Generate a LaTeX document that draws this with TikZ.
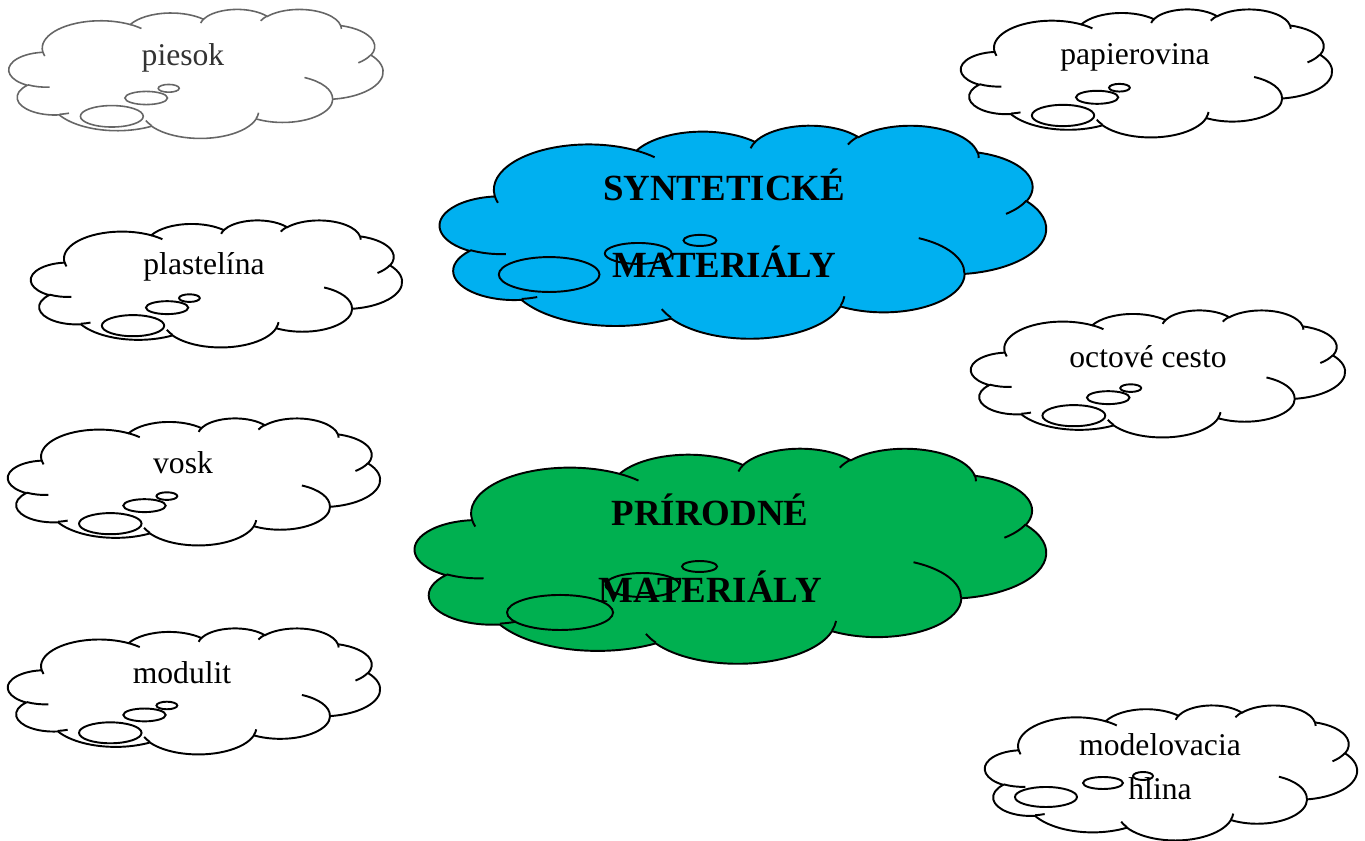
\documentclass[tikz,border=0pt]{standalone}
\usepackage{fontspec}
\setmainfont{Liberation Serif}

\definecolor{synblue}{RGB}{0,176,240}
\definecolor{prigreen}{RGB}{0,176,80}

% arc given like in the word shape (visual angles)
\tikzset{
  wa/.code n args={4}{%
    \pgfmathsetmacro\wdA{atan2(#1*sin(#3),#2*cos(#3))}%
    \pgfmathsetmacro\wdB{atan2(#1*sin(#3+#4),#2*cos(#3+#4))}%
    \pgfmathsetmacro\wdD{mod(\wdB-(\wdA)+720,360)}%
    \edef\wdtmp{\noexpand\pgfkeysalso{x radius=#1, y radius=#2, start angle=\wdA, delta angle=\wdD}}%
    \wdtmp
  }
}

% cloud: x0, y0, width, height, fill, bubbles
\newcommand{\wordcloud}[6]{%
  \pgfmathsetmacro\cx{#3/43.2*0.02}%
  \pgfmathsetmacro\cy{#4/43.2*0.02}%
  \edef\bubblelist{#6}%
  \begin{scope}[shift={(#1,#2)}, x=\cx cm, y=-\cy cm]
    \draw[fill=#5] (3.9,14.37)
      arc[wa={6.753}{9.19}{-190.4875}{123.7805}]
      arc[wa={5.333}{7.267}{-144.1024}{89.9452}]
      arc[wa={4.365}{5.945}{-145.8079}{99.723}]
      arc[wa={4.857}{6.595}{-130.9861}{117.2417}]
      arc[wa={5.333}{7.273}{-78.7089}{109.0269}]
      arc[wa={6.775}{9.22}{-46.2673}{130.269}]
      arc[wa={5.785}{7.867}{0.625}{114.0333}]
      arc[wa={6.752}{9.215}{22.4516}{115.1726}]
      arc[wa={7.72}{10.543}{66.2426}{75.711}]
      arc[wa={4.36}{5.918}{-274.9421}{146.7356}]
      arc[wa={4.345}{5.945}{-246.8285}{152.5189}]
      -- cycle;
    \draw (4.693,26.177) arc[wa={4.345}{5.945}{86.742}{26.4295}]
      (6.928,34.899) arc[wa={4.36}{5.918}{73.6105}{11.4475}]
      (16.478,39.09) arc[wa={6.752}{9.215}{137.6242}{14.0811}]
      (28.827,34.751) arc[wa={6.752}{9.215}{6.4533}{15.9984}]
      (34.129,22.954) arc[wa={5.785}{7.867}{-70.2924}{70.9174}]
      (41.798,15.354) arc[wa={5.333}{7.273}{30.318}{27.7515}]
      (38.324,5.426) arc[wa={4.857}{6.595}{-13.7443}{14.8589}]
      (29.078,3.952) arc[wa={4.857}{6.595}{-149.1815}{18.1954}]
      (22.141,4.72) arc[wa={4.365}{5.945}{-163.4943}{17.6864}]
      (14,5.192) arc[wa={6.753}{9.19}{-66.707}{12.3194}]
      (4.127,15.789) arc[wa={6.753}{9.19}{157.6544}{11.8582}];
    \foreach \bx/\by/\bw/\bh in \bubblelist
      \draw (\bx,\by) ellipse [x radius=\bw, y radius=\bh];
  \end{scope}
}
\newcommand{\smallbubbles}{11.88/35.94/3.63/3.59, 15.85/29.81/2.46/2.2, 18.45/26.57/1.21/1.3}

\begin{document}
\begin{tikzpicture}[x=0.02cm, y=-0.02cm, line width=1.1pt]
\tikzstyle{word} = [font=\fontsize{18}{25}\selectfont, anchor=base, align=center, inner sep=0pt]
\tikzstyle{heading} = [font=\bfseries\fontsize{21}{43.8}\selectfont, anchor=base, align=center, inner sep=0pt]

\useasboundingbox (0,0) rectangle (1365,841);

% mraky
\begin{scope}[draw=black!60, line width=0.9pt]
\wordcloud{9}{9}{374}{129}{white}{\smallbubbles}
\end{scope}
\wordcloud{961}{9}{371}{128}{white}{\smallbubbles}
\wordcloud{31}{220}{371}{127}{white}{\smallbubbles}
\wordcloud{971}{310}{374}{127}{white}{\smallbubbles}
\wordcloud{8}{418}{372}{127}{white}{\smallbubbles}
\wordcloud{8}{628}{372}{126}{white}{\smallbubbles}
\wordcloud{985}{705}{372}{135}{white}{7.08/29.44/3.6/3.2, 13.7/24.96/2.32/1.92, 18.35/22.72/1.16/1.28}
\wordcloud{440}{125}{606}{213}{synblue}{7.78/30.33/3.59/3.54, 14.13/26.05/2.38/2.12, 18.53/23.41/1.17/1.12}
\wordcloud{415}{448}{631}{215}{prigreen}{9.93/33.05/3.63/3.52, 15.57/27.53/2.53/2.41, 19.48/23.81/1.2/1.1}

% texty (base = posledny riadok)
\node[word, text=black!80] (piesok) at (183,66) {piesok};
\node[word] (papierovina) at (1135,65) {papierovina};
\node[word] (plastelina) at (204,275) {plastelína};
\node[word] (cesto) at (1148,367) {octové cesto};
\node[word] (vosk) at (183,473) {vosk};
\node[word] (modulit) at (182,683) {modulit};
\node[word] (hlina) at (1160,799) {modelovacia\\hlina};
\node[heading] (synteticke) at (724,277) {SYNTETICKÉ\\MATERIÁLY};
\node[heading] (prirodne) at (710,602) {PRÍRODNÉ\\MATERIÁLY};

\end{tikzpicture}
\end{document}
